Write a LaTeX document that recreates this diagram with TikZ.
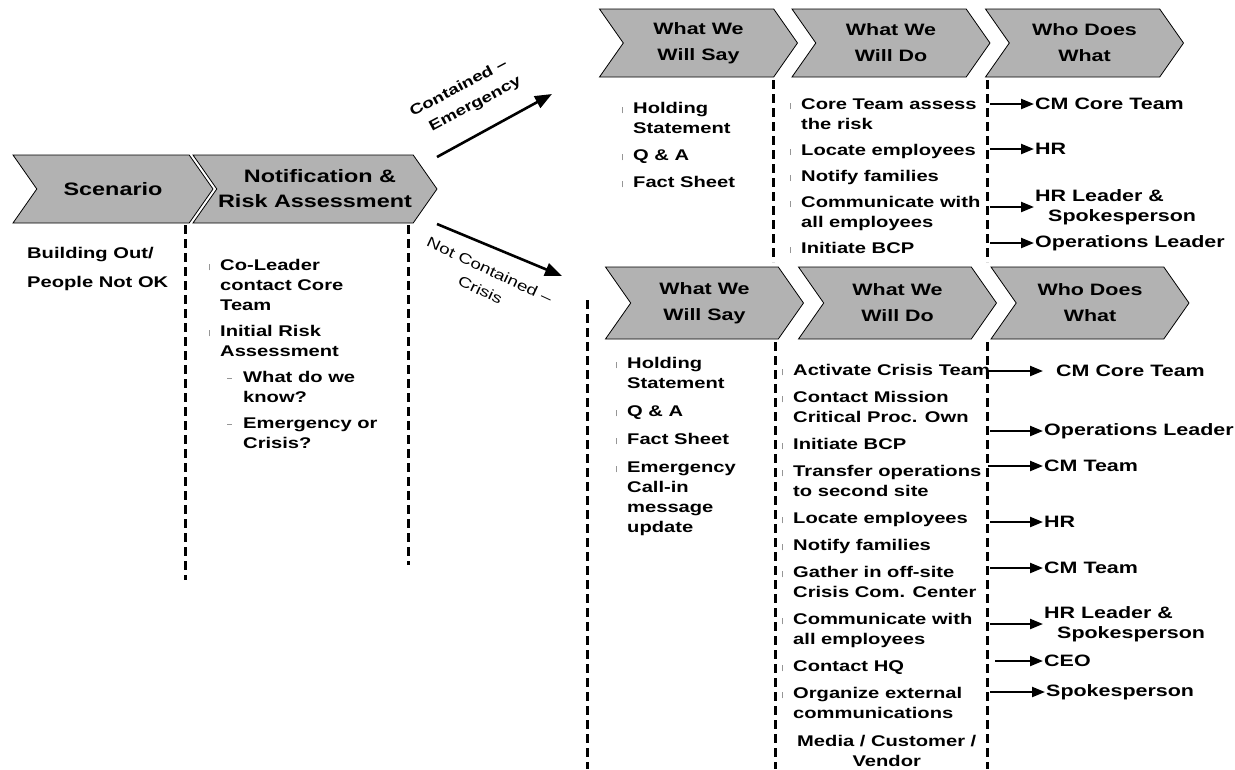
\documentclass[tikz,border=0pt]{standalone}
\usepackage{fontspec}
\setmainfont{Liberation Sans}[FakeStretch=1.3]
\usetikzlibrary{positioning,shapes.symbols,arrows.meta}

\definecolor{chevgray}{RGB}{178,178,178}
\definecolor{bulgray}{RGB}{150,150,150}

\newcommand{\hdfont}{\fontsize{18}{25}\selectfont\bfseries}
\newcommand{\rowfont}{\fontsize{16.5}{26}\selectfont\bfseries}
\newcommand{\bdfont}{\fontsize{15.5}{20}\selectfont\bfseries}
\newcommand{\whofont}{\fontsize{16.5}{20}\selectfont\bfseries}
\newcommand{\lblfont}{\fontsize{14.5}{22}\selectfont}
% gray list marks
\newcommand{\bl}{\llap{\textcolor{bulgray}{\rule{1.3pt}{6pt}}\hspace{10pt}}}
\newcommand{\sbl}{\llap{\textcolor{bulgray}{\rule[4pt]{5pt}{0.9pt}}\hspace{11pt}}}

\tikzset{
  chev/.style={shape=signal, signal from=west, signal to=east, signal pointer angle=110,
    draw=black, line width=0.8pt, fill=chevgray, inner sep=0pt, align=center},
  lst/.style={anchor=north west, inner sep=0pt, align=left, font=\bdfont},
  who/.style={anchor=west, inner sep=1pt, align=left, font=\whofont},
  sep/.style={line width=3pt, dash pattern=on 9pt off 5pt},
  arr/.style={line width=2.2pt, -{Triangle[length=13pt,width=10pt]}},
  bigarr/.style={line width=2.6pt, -{Triangle[length=17pt,width=13pt]}},
}

\begin{document}
\begin{tikzpicture}[x=1pt, y=-1pt]
  \useasboundingbox[fill=white] (0,0) rectangle (1235,769);

  % first stage
  \node[chev, font=\hdfont, minimum width=200, minimum height=68] (scen) at (113,189) {Scenario};
  \node[chev, font=\hdfont, minimum width=244, minimum height=68] (notif) at (315,189) {\hspace*{10pt}Notification \&\\Risk Assessment};

  \node[lst] (scenTxt) at (27,247) {Building Out/\\[9pt]People Not OK};
  \node[lst] (notifList) at (220,259) {\bl Co-Leader\\contact Core\\Team\\[6pt]
    \bl Initial Risk\\Assessment\\[6pt]
    \hspace*{23pt}\sbl What do we\\\hspace*{23pt}know?\\[6pt]
    \hspace*{23pt}\sbl Emergency or\\\hspace*{23pt}Crisis?};

  \draw[sep] (185,225) -- (185,580);
  \draw[sep] (408,225) -- (408,565);

  % branches
  \coordinate (cont0) at (437,157);
  \coordinate (cont1) at (552,94);
  \coordinate (ncont0) at (437,224);
  \coordinate (ncont1) at (562,276);
  \draw[bigarr] (cont0) -- (cont1);
  \draw[bigarr] (ncont0) -- (ncont1);
  \node[font=\lblfont\bfseries, rotate=28, align=center] (contLbl) at (464,98) {Contained --\\\hspace*{14pt}Emergency};
  \node[font=\lblfont, rotate=-25, align=center] (ncontLbl) at (485,280) {Not Contained --\\Crisis};

  % emergency row
  \node[chev, font=\rowfont, minimum width=198, minimum height=68] (say1) at (698.5,43) {What We\\Will Say};
  \node[chev, font=\rowfont, minimum width=198, minimum height=68] (do1) at (891,43) {What We\\Will Do};
  \node[chev, font=\rowfont, minimum width=198, minimum height=68] (who1) at (1084.5,43) {Who Does\\What};

  \node[lst] (say1List) at (633,102) {\bl Holding\\Statement\\[7pt]\bl Q \& A\\[7pt]\bl Fact Sheet};
  \node[lst] (do1List) at (801,98) {\bl Core Team assess\\the risk\\[6pt]
    \bl Locate employees\\[6pt]\bl Notify families\\[6pt]
    \bl Communicate with\\all employees\\[6pt]\bl Initiate BCP};

  \draw[sep] (773,80) -- (773,262);
  \draw[sep] (987,80) -- (987,262);

  \node[who] (cm1) at (1034,104) {CM Core Team};
  \node[who] (hr1) at (1034,149) {HR};
  \node[who] (hrl1) at (1034,207) {HR Leader \&\\\hspace*{13pt}Spokesperson};
  \node[who] (ops1) at (1034,243) {Operations Leader};
  \coordinate (w1a) at (990,104);
  \coordinate (w1b) at (990,149);
  \coordinate (w1c) at (990,207);
  \coordinate (w1d) at (990,243);
  \draw[arr] (w1a) -- (cm1);
  \draw[arr] (w1b) -- (hr1);
  \draw[arr] (w1c) -- (hrl1);
  \draw[arr] (w1d) -- (ops1);

  % crisis row
  \node[chev, font=\rowfont, minimum width=198, minimum height=72] (say2) at (704.5,303) {What We\\Will Say};
  \node[chev, font=\rowfont, minimum width=198, minimum height=72] (do2) at (897.5,303) {What We\\Will Do};
  \node[chev, font=\rowfont, minimum width=198, minimum height=72] (who2) at (1090,303) {Who Does\\What};

  \node[lst] (say2List) at (627,357) {\bl Holding\\Statement\\[8pt]\bl Q \& A\\[8pt]\bl Fact Sheet\\[8pt]
    \bl Emergency\\Call-in\\message\\update};
  \node[lst] (do2List) at (793,364) {\bl Activate Crisis Team\\[7pt]
    \bl Contact Mission\\Critical Proc. Own\\[7pt]\bl Initiate BCP\\[7pt]
    \bl Transfer operations\\to second site\\[7pt]\bl Locate employees\\[7pt]
    \bl Notify families\\[7pt]\bl Gather in off-site\\Crisis Com. Center\\[7pt]
    \bl Communicate with\\all employees\\[7pt]\bl Contact HQ\\[7pt]
    \bl Organize external\\communications};
  \node[font=\bdfont, align=center, inner sep=0pt, below right=16pt and 4pt of do2List.south west, anchor=north west] (media) {Media / Customer /\\Vendor};

  \draw[sep] (587,300) -- (587,769);
  \draw[sep] (775,342) -- (775,769);
  \draw[sep] (987,342) -- (987,769);

  \node[who] (cm2) at (1055,371) {CM Core Team};
  \node[who] (ops2) at (1043,431) {Operations Leader};
  \node[who] (cmt2) at (1043,466) {CM Team};
  \node[who] (hr2) at (1043,522) {HR};
  \node[who] (cmt3) at (1043,568) {CM Team};
  \node[who] (hrl2) at (1043,624) {HR Leader \&\\\hspace*{13pt}Spokesperson};
  \node[who] (ceo2) at (1043,661) {CEO};
  \node[who] (spk2) at (1045,692) {Spokesperson};
  \coordinate (w2a) at (988,371);
  \coordinate (w2b) at (990,431);
  \coordinate (w2c) at (988,466);
  \coordinate (w2d) at (990,522);
  \coordinate (w2e) at (990,568);
  \coordinate (w2f) at (990,624);
  \coordinate (w2g) at (995,661);
  \coordinate (w2h) at (990,692);
  \draw[arr, shorten >=12pt] (w2a) -- (cm2);
  \draw[arr] (w2b) -- (ops2);
  \draw[arr] (w2c) -- (cmt2);
  \draw[arr] (w2d) -- (hr2);
  \draw[arr] (w2e) -- (cmt3);
  \draw[arr] (w2f) -- (hrl2);
  \draw[arr] (w2g) -- (ceo2);
  \draw[arr] (w2h) -- (spk2);
\end{tikzpicture}
\end{document}
